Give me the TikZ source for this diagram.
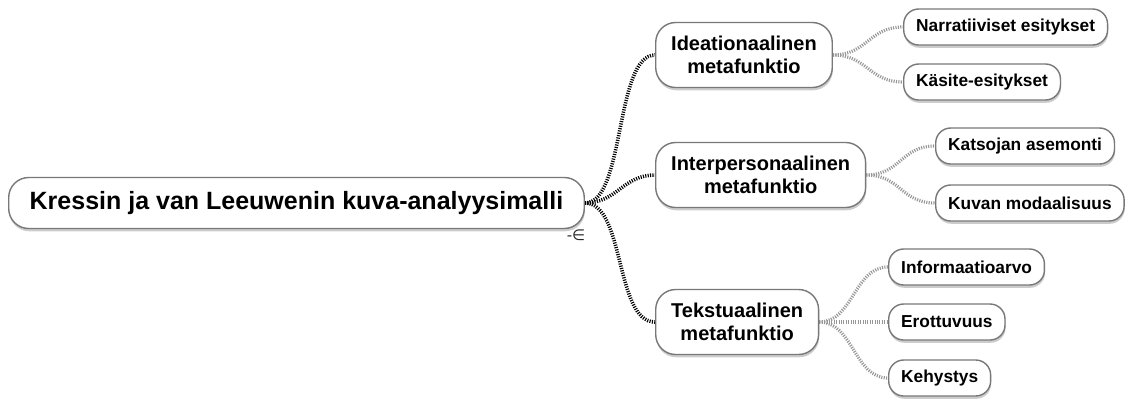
\documentclass[tikz,border=0pt]{standalone}
\usepackage{fontspec}
\setmainfont{Liberation Sans}
\newfontfamily\dejavu{DejaVu Sans}
\usetikzlibrary{shadows}
\pgfdeclarelayer{background}
\pgfsetlayers{background,main}
\definecolor{bordergray}{RGB}{120,120,120}
\definecolor{linkgray}{RGB}{150,150,150}
\begin{document}
\begin{tikzpicture}[x=1pt,y=-1pt,
  box/.style={draw=bordergray, line width=1.4pt, fill=white, text=black,
    drop shadow={shadow xshift=0.6pt, shadow yshift=-2.8pt, opacity=0.4, fill=gray}},
  rootbox/.style={box, font=\fontsize{25}{30}\selectfont\bfseries,
    minimum height=51pt, inner xsep=21pt, rounded corners=20pt},
  midbox/.style={box, font=\fontsize{20}{22.5}\selectfont\bfseries, align=center,
    minimum height=65pt, inner xsep=15.5pt, rounded corners=20pt},
  leafbox/.style={box, font=\fontsize{17.3}{20}\selectfont\bfseries,
    minimum height=36pt, inner xsep=12.5pt, rounded corners=15pt},
  mainlink/.style={draw=black, line width=3.6pt, dash pattern=on 1.1pt off 1.3pt},
  leaflink/.style={draw=linkgray, line width=3.2pt, dash pattern=on 1.1pt off 1.3pt}]
\useasboundingbox (0,0) rectangle (1125,399);

\node[rootbox, anchor=west] (root) at (8,203) {Kressin ja van Leeuwenin kuva-analyysimalli};
\node[font=\dejavu\fontsize{15}{15}\selectfont, text=black!85, inner sep=0pt] (tog) at (576,235) {-∈};

\node[midbox, anchor=west] (ide) at (655,55) {Ideationaalinen\\metafunktio};
\node[midbox, anchor=west] (int) at (655,175) {Interpersonaalinen\\metafunktio};
\node[midbox, anchor=west] (tek) at (655,322) {Tekstuaalinen\\metafunktio};

\node[leafbox, anchor=west] (nar) at (903,27) {Narratiiviset esitykset};
\node[leafbox, anchor=west] (kas) at (903,82) {Käsite-esitykset};
\node[leafbox, anchor=west] (kat) at (935,146) {Katsojan asemonti};
\node[leafbox, anchor=west] (kuv) at (935,203) {Kuvan modaalisuus};
\node[leafbox, anchor=west] (inf) at (888,267) {Informaatioarvo};
\node[leafbox, anchor=west] (ero) at (888,322) {Erottuvuus};
\node[leafbox, anchor=west] (keh) at (888,378) {Kehystys};

\begin{pgfonlayer}{background}
\draw[mainlink] (root.east) .. controls +(40,0) and +(-40,0) .. (ide.west);
\draw[mainlink] (root.east) .. controls +(32,0) and +(-32,0) .. (int.west);
\draw[mainlink] (root.east) .. controls +(40,0) and +(-40,0) .. (tek.west);
\draw[leaflink] (ide.east) .. controls +(34,0) and +(-34,0) .. (nar.west);
\draw[leaflink] (ide.east) .. controls +(34,0) and +(-34,0) .. (kas.west);
\draw[leaflink] (int.east) .. controls +(34,0) and +(-34,0) .. (kat.west);
\draw[leaflink] (int.east) .. controls +(34,0) and +(-34,0) .. (kuv.west);
\draw[leaflink] (tek.east) .. controls +(34,0) and +(-34,0) .. (inf.west);
\draw[leaflink] (tek.east) .. controls +(34,0) and +(-34,0) .. (ero.west);
\draw[leaflink] (tek.east) .. controls +(34,0) and +(-34,0) .. (keh.west);
\end{pgfonlayer}
\end{tikzpicture}
\end{document}
